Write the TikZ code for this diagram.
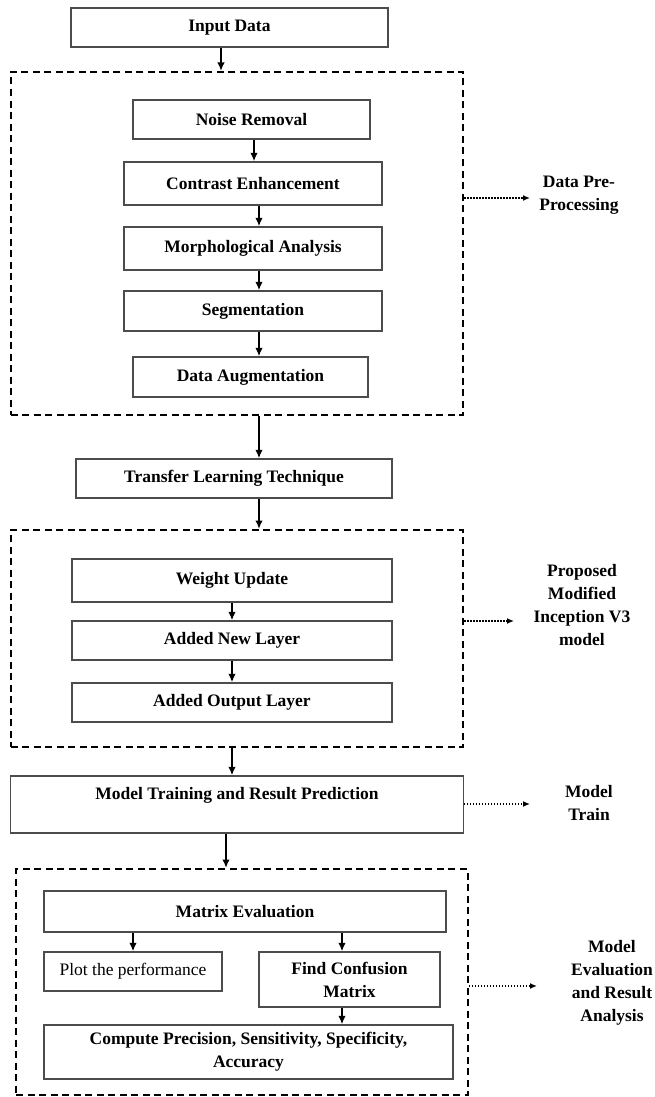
\documentclass[tikz,border=0pt]{standalone}
\usepackage{fontspec}
\setmainfont{Liberation Serif}
\usetikzlibrary{arrows.meta}
\begin{document}
\begin{tikzpicture}[x=1pt,y=-1pt,
	every node/.style={font=\fontsize{17.5}{23}\selectfont},
	blk/.style={draw=black!70,line width=1.3pt,rectangle,inner sep=0pt,align=center,font=\fontsize{17.5}{23}\selectfont\bfseries},
	grp/.style={draw,line width=2pt,dash pattern=on 7pt off 4.5pt,rectangle,inner sep=0pt},
	arr/.style={line width=1.8pt,-{Latex[length=8.5pt,width=7.5pt]}},
	dotarr/.style={line width=1.5pt,dash pattern=on 1.5pt off 1.5pt,-{Latex[length=7pt,width=6pt]}},
	lbl/.style={align=center,inner sep=0pt,font=\fontsize{17.5}{23}\selectfont\bfseries}]
	\useasboundingbox[fill=white] (0,0) rectangle (654,1097);
	% input and pre-processing
	\node[blk,minimum width=317pt,minimum height=39pt] (input) at (229.5,27.5) {Input Data};
	\node[grp,minimum width=452.5pt,minimum height=343pt] (pre) at (237,243.5) {};
	\node[blk,minimum width=237pt,minimum height=39pt] (noise) at (251.5,119.5) {Noise Removal};
	\node[blk,minimum width=258pt,minimum height=43pt] (contrast) at (253,183.5) {Contrast Enhancement};
	\node[blk,minimum width=258pt,minimum height=43pt] (morph) at (253,248.5) {Morphological Analysis};
	\node[blk,minimum width=258pt,minimum height=40pt] (seg) at (253,311) {Segmentation};
	\node[blk,minimum width=235pt,minimum height=40pt] (aug) at (250.5,377) {Data Augmentation};
	\draw[arr] ([xshift=-8.5pt]input.south) -- ([xshift=-8.5pt]input.south |- pre.north);
	\draw[arr] ([xshift=2.5pt]noise.south) -- ([xshift=2.5pt]noise.south |- contrast.north);
	\draw[arr] ([xshift=6pt]contrast.south) -- ([xshift=6pt]contrast.south |- morph.north);
	\draw[arr] ([xshift=6pt]morph.south) -- ([xshift=6pt]morph.south |- seg.north);
	\draw[arr] ([xshift=6pt]seg.south) -- ([xshift=6pt]seg.south |- aug.north);
	% transfer learning and model
	\node[blk,minimum width=316pt,minimum height=39pt] (transfer) at (234,478.5) {Transfer Learning Technique};
	\node[grp,minimum width=452.5pt,minimum height=217pt] (incep) at (237,638.5) {};
	\node[blk,minimum width=320pt,minimum height=43pt] (weight) at (232,580.5) {Weight Update};
	\node[blk,minimum width=320pt,minimum height=39pt] (newlayer) at (232,640.5) {Added New Layer};
	\node[blk,minimum width=320pt,minimum height=39pt] (outlayer) at (232,702.5) {Added Output Layer};
	\draw[arr] ([xshift=22pt]pre.south) -- ([xshift=22pt]pre.south |- transfer.north);
	\draw[arr] ([xshift=25pt]transfer.south) -- ([xshift=25pt]transfer.south |- incep.north);
	\draw[arr] (weight) -- (newlayer);
	\draw[arr] (newlayer) -- (outlayer);
	% training
	\node[blk,minimum width=452.5pt,minimum height=57pt] (train) at (237,804.5) {Model Training and Result Prediction\\[-8pt]\strut};
	\draw[arr] ([xshift=-5pt]incep.south) -- ([xshift=-5pt]incep.south |- train.north);
	% evaluation
	\node[grp,minimum width=451.5pt,minimum height=226pt] (evalbox) at (242,982) {};
	\node[blk,minimum width=402pt,minimum height=41pt] (matrix) at (245,911.5) {Matrix Evaluation};
	\node[blk,minimum width=178pt,minimum height=39pt,font=\fontsize{17.5}{23}\selectfont] (plot) at (133,971.5) {Plot the performance};
	\node[blk,minimum width=181pt,minimum height=55pt] (confusion) at (349.5,979.5) {Find Confusion\\Matrix};
	\node[blk,minimum width=409pt,minimum height=54pt] (compute) at (248.5,1052) {Compute Precision, Sensitivity, Specificity,\\Accuracy};
	\draw[arr] ([xshift=-11pt]train.south) -- ([xshift=-11pt]train.south |- evalbox.north);
	\draw[arr] (matrix.south -| plot.north) -- (plot.north);
	\draw[arr] ([xshift=-7.5pt]confusion.north |- matrix.south) -- ([xshift=-7.5pt]confusion.north);
	\draw[arr] ([xshift=-7.5pt]confusion.south) -- ([xshift=-7.5pt]confusion.south |- compute.north);
	% side labels
	\node[lbl] (preLbl) at (579,195.5) {Data Pre-\\Processing};
	\node[lbl] (incepLbl) at (582,605.5) {Proposed\\Modified\\Inception V3\\model};
	\node[lbl] (trainLbl) at (589,803.5) {Model\\Train};
	\node[lbl] (evalLbl) at (612,982.5) {Model\\Evaluation\\and Result\\Analysis};
	\coordinate (preTip) at (530,198);
	\coordinate (incepTip) at (514,621);
	\coordinate (trainTip) at (530,804);
	\coordinate (evalTip) at (537,986);
	\draw[dotarr] (pre.east |- preTip) -- (preTip);
	\draw[dotarr] (incep.east |- incepTip) -- (incepTip);
	\draw[dotarr] (train.east |- trainTip) -- (trainTip);
	\draw[dotarr] (evalbox.east |- evalTip) -- (evalTip);
\end{tikzpicture}
\end{document}
